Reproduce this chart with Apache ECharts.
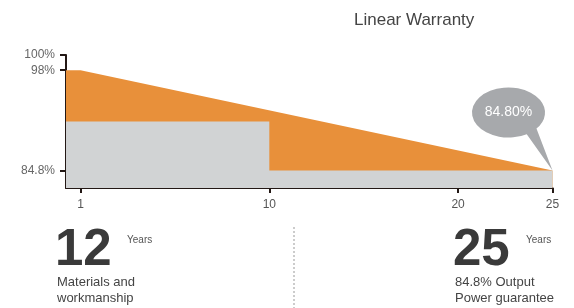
<!DOCTYPE html>
<html>
<head>
<meta charset="utf-8">
<script src="https://cdn.jsdelivr.net/npm/echarts@6/dist/echarts.min.js"></script>
<style>
  html, body { margin: 0; padding: 0; background: #fff; }
  #chart { width: 574px; height: 308px; }
</style>
</head>
<body>
<div id="chart"></div>
<script>
// x positions of the ticks and the labels printed under them
var tickPos = [0, 10, 20, 25];
var tickLabels = ['1', '10', '20', '25'];
var yTicks = [84.8, 98, 100];

// orange band: linear power warranty (98% -> 84.8%)
var linearX = [-0.77, 0, 25];
var linearY = [98, 98, 84.8];
// grey band: standard step warranty
var stepX = [-0.77, 10, 10, 25];
var stepY = [91.25, 91.25, 84.8, 84.8];

var finalValue = 84.8;
var FONT = 'Liberation Sans, Arial, sans-serif';

function zip(xs, ys) {
    return xs.map(function (x, i) { return [x, ys[i]]; });
}

var chart = echarts.init(document.getElementById('chart'));
chart.setOption({
    animation: false,
    textStyle: { fontFamily: FONT },
    title: {
        text: 'Linear Warranty',
        left: 349,
        top: 7,
        textStyle: { fontSize: 17, fontWeight: 'normal', color: '#444', fontFamily: FONT }
    },
    grid: { left: 66, right: 21.5, top: 55, bottom: 120 },
    xAxis: {
        type: 'value',
        min: -0.77,
        max: 25,
        splitLine: { show: false },
        axisLine: { onZero: false, lineStyle: { color: '#231815', width: 2 } },
        axisTick: { customValues: tickPos, length: 5, lineStyle: { color: '#231815', width: 2 } },
        axisLabel: {
            customValues: tickPos,
            margin: 11,
            color: '#555',
            fontSize: 12,
            formatter: function (v) { return tickLabels[tickPos.indexOf(v)]; }
        }
    },
    yAxis: {
        type: 'value',
        min: 82.5,
        max: 100,
        splitLine: { show: false },
        axisLine: { show: true, onZero: false, lineStyle: { color: '#231815', width: 2 } },
        axisTick: { show: true, customValues: yTicks, length: 6, lineStyle: { color: '#231815', width: 2 } },
        axisLabel: {
            customValues: yTicks,
            margin: 11,
            color: '#666',
            fontSize: 12,
            lineHeight: 11,
            formatter: function (v) { return v + '%'; }
        }
    },
    series: [
        {
            type: 'line',
            data: zip(linearX, linearY),
            symbol: 'none',
            lineStyle: { width: 0 },
            areaStyle: { color: '#E8903A', opacity: 1, origin: 'start' },
            markPoint: {
                symbol: 'path://M54.75,46.65 A36.5,25 0 1 1 64.46,41.07 L80.5,83 Z',
                symbolSize: [80.5, 83],
                symbolOffset: [-40.25, -41.5],
                itemStyle: { color: '#A7A9AC' },
                label: {
                    show: true,
                    position: 'inside',
                    offset: [-3.75, -16.5],
                    color: '#fff',
                    fontSize: 14,
                    fontFamily: FONT,
                    formatter: function () { return finalValue.toFixed(2) + '%'; }
                },
                data: [{ coord: [25, finalValue] }]
            },
            z: 2
        },
        {
            type: 'line',
            data: zip(stepX, stepY),
            symbol: 'none',
            lineStyle: { width: 0 },
            areaStyle: { color: '#D1D3D4', opacity: 1, origin: 'start' },
            z: 3
        }
    ],
    graphic: [
        { type: 'text', left: 55, top: 225, style: { text: '12', font: 'bold 51px ' + FONT, fill: '#3a3a3a' } },
        { type: 'text', left: 127, top: 235, style: { text: 'Years', font: '10px ' + FONT, fill: '#555' } },
        { type: 'text', left: 57, top: 274, style: { text: 'Materials and\nworkmanship', font: '13px ' + FONT, fill: '#444', lineHeight: 16 } },
        { type: 'text', left: 453, top: 225, style: { text: '25', font: 'bold 51px ' + FONT, fill: '#3a3a3a' } },
        { type: 'text', left: 526, top: 235, style: { text: 'Years', font: '10px ' + FONT, fill: '#555' } },
        { type: 'text', left: 455, top: 274, style: { text: '84.8% Output\nPower guarantee', font: '13px ' + FONT, fill: '#444', lineHeight: 16 } },
        { type: 'line', shape: { x1: 294, y1: 227, x2: 294, y2: 308 }, style: { stroke: '#999', lineWidth: 1, lineDash: [2, 2] } }
    ]
});
</script>
</body>
</html>
